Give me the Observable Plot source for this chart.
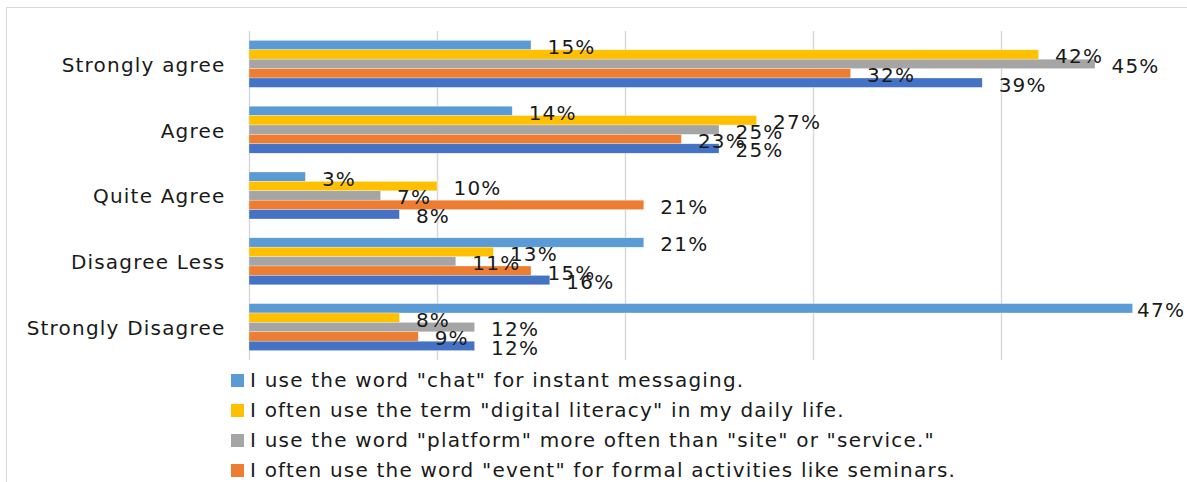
<!DOCTYPE html>
<html>
<head>
<meta charset="utf-8">
<script src="https://cdn.jsdelivr.net/npm/d3@7"></script>
<script src="https://cdn.jsdelivr.net/npm/@observablehq/plot@0.6"></script>
<style>
  html, body { margin: 0; padding: 0; background: #fff; overflow: hidden; width: 1187px; height: 482px; }
  #wrap { position: relative; width: 1187px; height: 482px; overflow: hidden; font-family: "DejaVu Sans", sans-serif; }
  #border { position: absolute; left: 6px; top: 7px; width: 1300px; height: 600px; border: 1px solid #d9d9d9; box-sizing: border-box; }
  #chart { position: absolute; left: 0; top: 0; width: 1200px; }
  #chart svg { max-width: none !important; }
  #legend { position: absolute; left: 231px; top: 365px; }
  .item { display: flex; align-items: center; height: 30px; font-size: 20px; letter-spacing: 1.2px; color: #1a1a1a; white-space: nowrap; }
  .sw { width: 13px; height: 13px; margin-right: 6px; flex: none; }
</style>
</head>
<body>
<div id="wrap">
  <div id="border"></div>
  <div id="chart"></div>
  <div id="legend"></div>
</div>
<script>
const categories = ["Strongly agree", "Agree", "Quite Agree", "Disagree Less", "Strongly Disagree"];
const seriesNames = [
  'I use the word "chat" for instant messaging.',
  'I often use the term "digital literacy" in my daily life.',
  'I use the word "platform" more often than "site" or "service."',
  'I often use the word "event" for formal activities like seminars.',
  ''
];
const seriesColors = ["#5B9BD5", "#FFC000", "#A5A5A5", "#ED7D31", "#4472C4"];
const chat =     [15, 14, 3, 21, 47];
const digital =  [42, 27, 10, 13, 8];
const platform = [45, 25, 7, 11, 12];
const eventW =   [32, 23, 21, 15, 9];
const fifth =    [39, 25, 8, 16, 12];
const xTicks = [0, 10, 20, 30, 40, 50];

const seriesValues = [chat, digital, platform, eventW, fifth];
const rows = [];
categories.forEach((c, i) => {
  seriesValues.forEach((vals, j) => {
    rows.push({cat: c, s: j, key: c + "|" + j, value: vals[i]});
  });
});
const yDomain = [];
categories.forEach(c => {
  yDomain.push(c + "|pre");
  for (let j = 0; j < seriesValues.length; j++) yDomain.push(c + "|" + j);
  yDomain.push(c + "|post");
});

const font = "DejaVu Sans, sans-serif";
const nearEdge = d => d.value >= 46;
const chart = Plot.plot({
  width: 1200,
  height: 360,
  marginTop: 31,
  marginBottom: 0,
  marginLeft: 249,
  marginRight: 11,
  style: {fontFamily: font, fontSize: "20px", background: "transparent", color: "#1a1a1a", maxWidth: "none", letterSpacing: "1.2px"},
  x: {domain: [0, 50], axis: null},
  y: {domain: yDomain, axis: null, padding: 0, round: false},
  color: {domain: d3.range(seriesValues.length), range: seriesColors},
  marks: [
    Plot.gridX(xTicks, {stroke: "#d9d9d9", strokeOpacity: 1, strokeWidth: 1.5}),
    Plot.barX(rows, {x: "value", y: "key", fill: "s", stroke: "#ffffff", strokeWidth: 0.5, strokeOpacity: 0.6}),
    Plot.text(rows.filter(d => !nearEdge(d)), {x: "value", y: "key", text: d => d.value + "%", textAnchor: "start", dx: 16, dy: 2, fill: "#1a1a1a", fontSize: 20}),
    Plot.text(rows.filter(nearEdge), {x: "value", y: "key", text: d => d.value + "%", textAnchor: "start", dx: 4, dy: 2, fill: "#1a1a1a", fontSize: 20, letterSpacing: 0}),
    Plot.text(categories, {y: c => c + "|2", text: c => c, frameAnchor: "left", textAnchor: "end", dx: -24, dy: 1, fill: "#1a1a1a", fontSize: 20})
  ]
});
document.getElementById("chart").appendChild(chart);

const legend = document.getElementById("legend");
seriesNames.forEach((n, j) => {
  if (!n) return;
  const it = document.createElement("div");
  it.className = "item";
  const sw = document.createElement("span");
  sw.className = "sw";
  sw.style.background = seriesColors[j];
  const t = document.createElement("span");
  t.textContent = n;
  it.appendChild(sw);
  it.appendChild(t);
  legend.appendChild(it);
});
</script>
</body>
</html>
